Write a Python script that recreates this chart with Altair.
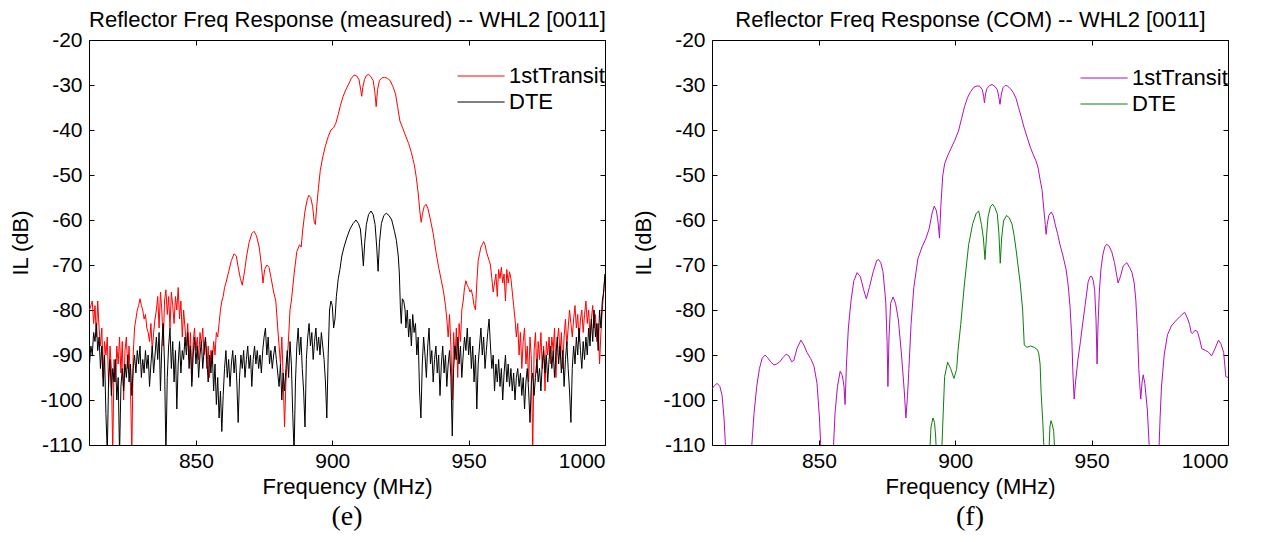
import altair as alt
import pandas as pd

FONT = "Liberation Sans"
SERIF = "Liberation Serif"
X_DOMAIN = [810.8, 1000]
Y_DOMAIN = [-110, -20]
X_TICKS = [850, 900, 950, 1000]
Y_TICKS = [-110, -100, -90, -80, -70, -60, -50, -40, -30, -20]
SERIES = ["1stTransit", "DTE"]

TITLE_E = "Reflector Freq Response (measured) -- WHL2 [0011]"
TITLE_F = "Reflector Freq Response (COM) -- WHL2 [0011]"

# (frequency MHz, IL dB); values below -110 leave the plot
meas_transit = [
(811.0,-80),(811.5,-79),(812.0,-78),(812.5,-83),(813.0,-79),(813.5,-86),(814.0,-78),(814.5,-84),(815.0,-88),(815.5,-84),
(816.0,-95),(816.5,-87),(817.0,-90),(817.5,-86),(818.0,-97),(818.5,-88),(819.0,-93),(819.5,-112),(820.0,-91),(820.5,-96),
(821.0,-88),(821.5,-92),(822.0,-86),(822.5,-94),(823.0,-87),(823.5,-100),(824.0,-89),(824.5,-86),(825.0,-93),(825.5,-88),
(826.0,-97),(826.5,-112),(827.0,-90),(827.5,-84),(828.0,-82),(828.5,-80),(829.0,-79),(829.5,-77.5),(830.0,-79),(830.5,-80),
(831.0,-82),(831.5,-81),(832.0,-84),(832.5,-85),(833.0,-87),(833.5,-83),(834.0,-89),(834.5,-85),(835.0,-82),(835.5,-80),
(836.0,-77),(836.5,-84),(837.0,-76),(837.5,-80),(838.0,-88),(838.5,-78),(839.0,-75.5),(839.5,-81),(840.0,-77),(840.5,-84),
(841.0,-76),(841.5,-79),(842.0,-83),(842.5,-77),(843.0,-80),(843.5,-75),(844.0,-82),(844.5,-78),(845.0,-86),(845.5,-80),
(846.0,-84),(846.5,-88),(847.0,-83),(847.5,-91),(848.0,-85),(848.5,-96),(849.0,-87),(849.5,-84),(850.0,-89),(850.5,-86),
(851.0,-91),(851.5,-85),(852.0,-88),(852.5,-84),(853.0,-90),(853.5,-86),(854.0,-93),(854.5,-88),(855.0,-95),(855.5,-89),
(856.0,-92),(856.5,-87),(857.0,-90),(857.5,-85),(858.0,-86),(858.5,-83),(859.0,-80),(859.5,-78),(860.0,-77),(860.5,-75),
(861.0,-74),(862,-71.5),(863,-69),(864,-67.5),(864.8,-68),(865.5,-70.5),(866.3,-73),(867,-74.5),(867.8,-71.5),(868.6,-68),
(869.5,-65),(870.5,-63),(871.3,-62.5),(872.2,-63.5),(873.2,-66),(874,-70),(874.6,-74),(875.2,-71),(876,-70),(876.8,-70.5),
(877.6,-73),(878.5,-76),(879.3,-78),(880,-84),(880.5,-88),(881,-92),(881.5,-86),(882,-95),(882.5,-106),(883,-96),
(883.5,-91),(884,-86),(884.5,-80),(885,-78),(886,-72),(887,-67),(888,-65.5),(888.6,-66),(889.2,-62),(890,-58),
(890.8,-55.5),(891.4,-54.5),(892.1,-55),(892.8,-57),(893.4,-60.5),(893.8,-61),(894.3,-57),(894.9,-53),(895.6,-49),(896.5,-46),
(897.5,-43.5),(898.5,-41.5),(899.5,-40),(900.5,-39.5),(901.3,-38.5),(902.2,-36.5),(903,-34.5),(904,-32.5),(905,-31),(906,-29.8),
(907,-28.5),(908,-27.8),(909,-28),(909.8,-28.8),(910.4,-31),(910.8,-32.5),(911.2,-30.5),(911.8,-28.8),(912.5,-27.9),(913.3,-27.6),
(914.2,-28.2),(915,-29),(915.6,-31.5),(916.1,-34.8),(916.6,-31),(917.3,-29),(918.2,-28.4),(919.2,-28.3),(920.2,-28.5),(921.2,-29),
(922.2,-30.3),(923.2,-32),(924,-35),(924.8,-38),(925.8,-39.5),(927,-41.5),(928,-43),(929,-45),(930,-47.5),(930.8,-50.5),
(931.5,-54),(932.1,-58),(932.6,-60.5),(933.1,-58.5),(933.7,-57),(934.4,-56.5),(935.1,-57.5),(936,-60),(937,-63),(938,-67),
(939,-70.5),(940,-73.5),(940.8,-76),(941.5,-79),(942,-82),(942.5,-86),(943,-81),(943.5,-88),(944,-100),(944.5,-85),
(945,-91),(945.5,-84),(946,-95),(946.5,-83),(947,-87),(947.5,-80),(948,-78),(948.5,-75),(949,-73.5),(949.5,-74.5),
(950,-75),(950.5,-76),(951,-75.5),(951.5,-77),(952,-79),(952.5,-80),(953,-74),(953.5,-69),(954,-67.5),(954.5,-66),
(955,-65.5),(955.5,-64.8),(956,-65.5),(956.5,-67),(957,-68),(957.5,-69),(958,-70),(958.5,-73),(959,-76),(959.5,-74),
(960,-72),(960.5,-77),(961,-71),(961.5,-73),(962,-70.5),(962.5,-74),(963,-72),(963.5,-78),(964,-71),(964.5,-74),
(965,-71.5),(965.5,-73),(966,-76),(966.5,-79),(967,-82),(967.5,-86),(968,-83),(968.5,-90),(969,-85),(969.5,-93),
(970,-87),(970.5,-84),(971,-92),(971.5,-88),(972,-96),(972.5,-86),(973,-91),(973.5,-112),(974,-89),(974.5,-85),
(975,-94),(975.5,-87),(976,-91),(976.5,-85),(977,-93),(977.5,-88),(978,-98),(978.5,-87),(979,-90),(979.5,-86),
(980,-92),(980.5,-86),(981,-89),(981.5,-84),(982,-95),(982.5,-87),(983,-84),(983.5,-90),(984,-85),(984.5,-93),
(985,-86),(985.5,-82),(986,-88),(986.5,-84),(987,-80),(987.5,-83),(988,-86),(988.5,-82),(989,-79),(989.5,-84),
(990,-81),(990.5,-87),(991,-82),(991.5,-80),(992,-85),(992.5,-81),(993,-78),(993.5,-83),(994,-80),(994.5,-86),
(995,-82),(995.5,-79),(996,-84),(996.5,-81),(997,-87),(997.5,-83),(998,-92),(998.5,-85),(999,-80),(999.5,-76),(1000,-72)]

meas_dte = [
(811.0,-92),(811.5,-88),(812.0,-90),(812.5,-85),(813.0,-87),(813.5,-83),(814.0,-89),(814.5,-86),(815.0,-93),(815.5,-88),
(816.0,-97),(816.5,-90),(817.0,-103),(817.5,-112),(818.0,-95),(818.5,-91),(819.0,-99),(819.5,-93),(820.0,-96),(820.5,-91),
(821.0,-100),(821.5,-95),(822.0,-112),(822.5,-97),(823.0,-93),(823.5,-98),(824.0,-92),(824.5,-95),(825.0,-90),(825.5,-96),
(826.0,-92),(826.5,-99),(827.0,-93),(827.5,-90),(828.0,-94),(828.5,-89),(829.0,-92),(829.5,-88),(830.0,-95),(830.5,-91),
(831.0,-94),(831.5,-89),(832.0,-93),(832.5,-90),(833.0,-97),(833.5,-92),(834.0,-88),(834.5,-94),(835.0,-90),(835.5,-86),
(836.0,-91),(836.5,-85),(837.0,-98),(837.5,-88),(838.0,-83),(838.5,-92),(839.0,-112),(839.5,-95),(840.0,-88),(840.5,-84),
(841.0,-93),(841.5,-87),(842.0,-96),(842.5,-89),(843.0,-102),(843.5,-92),(844.0,-87),(844.5,-94),(845.0,-89),(845.5,-91),
(846.0,-86),(846.5,-90),(847.0,-85),(847.5,-93),(848.0,-88),(848.5,-97),(849.0,-90),(849.5,-86),(850.0,-92),(850.5,-88),
(851.0,-95),(851.5,-90),(852.0,-87),(852.5,-93),(853.0,-89),(853.5,-86),(854.0,-91),(854.5,-96),(855.0,-90),(855.5,-94),
(856.0,-89),(856.5,-98),(857.0,-92),(857.5,-101),(858.0,-95),(858.5,-104),(859.0,-98),(859.5,-107),(860.0,-99),(860.5,-93),
(861.0,-89),(861.5,-95),(862.0,-91),(862.5,-97),(863.0,-92),(863.5,-89),(864.0,-94),(864.5,-90),(865.0,-96),(865.5,-105),
(866.0,-95),(866.5,-90),(867.0,-93),(867.5,-89),(868.0,-95),(868.5,-91),(869.0,-88),(869.5,-93),(870.0,-90),(870.5,-97),
(871.0,-91),(871.5,-88),(872.0,-92),(872.5,-89),(873.0,-93),(873.5,-90),(874.0,-94),(874.5,-89),(875.0,-86),(875.5,-84),
(876.0,-90),(876.5,-86),(877.0,-92),(877.5,-89),(878.0,-93),(878.5,-90),(879.0,-88),(879.5,-91),(880.0,-94),(880.5,-97),
(881.0,-92),(881.5,-100),(882.0,-94),(882.5,-98),(883.0,-93),(883.5,-89),(884.0,-95),(884.5,-87),(885.0,-92),(885.5,-103),
(886.0,-112),(886.5,-96),(887.0,-88),(887.5,-84),(888.0,-90),(888.5,-86),(889.0,-93),(889.5,-98),(890.0,-106),(890.5,-91),
(891.0,-86),(891.5,-83),(892.0,-88),(892.5,-85),(893.0,-91),(893.5,-87),(894.0,-84),(894.5,-89),(895.0,-86),(895.5,-90),
(896.0,-85),(896.5,-88),(897.0,-91),(897.5,-96),(898.0,-104),(898.5,-90),(899.0,-80),(899.5,-78),(900.0,-79),(900.5,-84),
(901.0,-82),(901.5,-77),(902.2,-73),(902.8,-71),(903.5,-68),(904.3,-66),(905.3,-64),(906.5,-62),(907.6,-60.8),(908.7,-60),
(909.6,-60.8),(910.3,-62),(910.9,-66),(911.4,-70.2),(911.9,-65),(912.5,-61),(913.3,-58.8),(914.2,-58),(915,-58.8),(915.7,-61),
(916.3,-66),(916.8,-71.4),(917.3,-65),(918,-60.8),(918.9,-59),(919.8,-58.5),(920.8,-59),(921.8,-60),(922.8,-62.5),(923.5,-64.5),
(924.2,-68),(924.6,-72),(925,-80),(925.3,-83),(925.7,-77.5),(926.2,-78),(926.7,-80),(927.0,-84),(927.5,-80),(928.0,-86),
(928.5,-82),(929.0,-88),(929.5,-81),(930.0,-85),(930.5,-83),(931.0,-90),(931.5,-86),(932.0,-98),(932.5,-104),(933.0,-92),
(933.5,-86),(934.0,-90),(934.5,-95),(935.0,-88),(935.5,-84),(936.0,-92),(936.5,-89),(937.0,-96),(937.5,-91),(938.0,-88),
(938.5,-94),(939.0,-90),(939.5,-99),(940.0,-92),(940.5,-88),(941.0,-94),(941.5,-90),(942.0,-97),(942.5,-92),(943.0,-89),
(943.5,-95),(944.0,-108),(944.5,-93),(945.0,-88),(945.5,-91),(946.0,-86),(946.5,-92),(947.0,-88),(947.5,-95),(948.0,-90),
(948.5,-86),(949.0,-89),(949.5,-84),(950.0,-90),(950.5,-86),(951.0,-93),(951.5,-88),(952.0,-96),(952.5,-90),(953.0,-102),
(953.5,-92),(954.0,-88),(954.5,-84),(955.0,-90),(955.5,-86),(956.0,-93),(956.5,-89),(957.0,-85),(957.5,-82),(958.0,-88),
(958.5,-93),(959.0,-90),(959.5,-98),(960.0,-92),(960.5,-96),(961.0,-91),(961.5,-97),(962.0,-93),(962.5,-100),(963.0,-94),
(963.5,-90),(964.0,-96),(964.5,-92),(965.0,-97),(965.5,-93),(966.0,-98),(966.5,-94),(967.0,-100),(967.5,-95),(968.0,-93),
(968.5,-97),(969.0,-94),(969.5,-99),(970.0,-95),(970.5,-102),(971.0,-96),(971.5,-93),(972.0,-98),(972.5,-105),(973.0,-96),
(973.5,-94),(974.0,-99),(974.5,-95),(975.0,-91),(975.5,-96),(976.0,-93),(976.5,-98),(977.0,-92),(977.5,-89),(978.0,-94),
(978.5,-90),(979.0,-96),(979.5,-91),(980.0,-88),(980.5,-93),(981.0,-89),(981.5,-95),(982.0,-90),(982.5,-86),(983.0,-92),
(983.5,-88),(984.0,-94),(984.5,-89),(985.0,-97),(985.5,-91),(986.0,-87),(986.5,-93),(987.0,-98),(987.5,-105),(988.0,-93),
(988.5,-88),(989.0,-92),(989.5,-86),(990.0,-90),(990.5,-84),(991.0,-89),(991.5,-93),(992.0,-87),(992.5,-91),(993.0,-86),
(993.5,-90),(994.0,-84),(994.5,-88),(995.0,-82),(995.5,-87),(996.0,-80),(996.5,-86),(997.0,-83),(997.5,-89),(998.0,-80),
(998.5,-84),(999.0,-78),(999.5,-76),(1000.0,-72)]

com_transit = [
(810.8,-97.5),(811.7,-96.8),(812.7,-96.3),(813.7,-97),(814.5,-99),(815.2,-104),(815.9,-112),(820,-140),(824.9,-115),(825.4,-110),
(826.2,-103),(827.2,-97),(828.2,-93),(829.2,-90.7),(830.3,-90),(831.2,-90.6),(832.4,-91.6),(833.5,-92.2),(834.5,-92),(835.5,-91.6),
(836.8,-90.6),(838,-89.8),(839,-90.2),(840,-91.5),(840.8,-91.2),(842,-88.5),(843.4,-86.7),(844.5,-87.8),(845.6,-89.4),(847,-90.8),
(848.2,-92.5),(849.3,-96.3),(850.2,-104),(850.8,-112),(853,-135),(855,-115),(855.9,-103),(856.8,-97),(857.8,-93.6),(858.6,-94.6),
(859.2,-97),(859.6,-101),(860.1,-92),(860.8,-84),(861.8,-77.8),(862.8,-73.5),(864,-71.7),(865.2,-72.6),(866.4,-75.5),(867.4,-77.5),
(868.5,-75),(869.9,-71.5),(871.2,-69),(871.9,-68.8),(872.7,-69.5),(873.5,-71.5),(874.5,-78),(875,-87),(875.3,-97),(875.7,-86),
(876.3,-78.5),(877.2,-77.1),(878.1,-78.5),(879.1,-82),(880.3,-90),(881.3,-98),(881.9,-104),(882.5,-99),(883,-93),(883.8,-83),
(884.8,-75),(886.3,-68.6),(887.8,-66),(889.3,-64),(890.4,-62),(891.5,-58.5),(892.3,-56.9),(893.1,-58),(893.7,-60.5),(894.2,-64),
(894.7,-57),(895.4,-50.2),(896.1,-47.5),(897,-46),(898.5,-44),(899.8,-42.3),(901.2,-40.2),(902.3,-37.5),(903.4,-34.8),(904.5,-32.8),
(905.6,-31.5),(906.8,-30.5),(908,-30.2),(909,-30.3),(909.9,-31),(910.4,-32.5),(910.7,-34),(911.1,-32),(911.6,-30.8),(912.6,-30.1),
(913.5,-29.9),(914.5,-30.3),(915.4,-31),(915.9,-32.5),(916.4,-34.3),(916.9,-32),(917.5,-30.6),(918.3,-30.1),(919.1,-30.2),(920.2,-30.8),
(921.3,-31.7),(922.3,-33),(923.2,-35),(924.2,-37.1),(925.3,-39.6),(926.4,-41.7),(927.5,-43.8),(928.6,-45.5),(929.7,-47),(930.4,-48.5),
(931.1,-51),(931.8,-53.2),(932.5,-57.8),(933,-61),(933.3,-63.2),(933.7,-61),(934.3,-59),(935.2,-58.2),(935.9,-59),(936.6,-60.9),
(937.5,-63),(938.4,-65.5),(939.5,-68),(940.6,-70.9),(941.4,-74.5),(942.1,-79.4),(942.7,-86),(943.2,-95),(943.6,-99.8),(944.1,-96),
(945,-90.9),(945.9,-87),(946.5,-84),(947.6,-79),(948.7,-73.8),(949.4,-72.6),(950,-72.5),(950.6,-73.5),(951.1,-75.5),(951.6,-82),
(952,-92),(952.3,-84),(952.8,-76.2),(953.4,-71),(954.1,-67.8),(954.8,-66),(955.5,-65.4),(956.4,-65.8),(957.4,-67.1),(958.4,-69.5),
(959.7,-74),(960.6,-72.5),(961.6,-70.2),(962.9,-69.5),(963.9,-70.5),(964.8,-71.7),(965.6,-74),(966.2,-77.8),(966.8,-85),(967.3,-93.2),
(968,-99.8),(968.5,-96),(968.9,-94.4),(969.5,-96.3),(970.4,-102),(971.1,-110),(972.8,-135),(974.5,-114),(975.1,-104),(975.6,-97.1),
(976.6,-90),(977.8,-85.5),(979.3,-83.5),(980.7,-82.5),(982.3,-81.5),(984.1,-80.5),(985.1,-81.8),(985.9,-83.2),(986.5,-85),(987,-85.2),
(987.9,-84.5),(988.8,-84.8),(989.6,-86.5),(990.4,-88.6),(991.8,-89),(992.9,-89.4),(994,-90.2),(995.3,-88.5),(996.5,-86.7),(997.4,-87.5),
(998.4,-89.4),(999.2,-94.8),(1000,-95)]

com_dte = [
(890.6,-112),(891.1,-106),(891.8,-104),(892.4,-105),(892.8,-108),(893.1,-112),(894,-125),(895,-112),(895.5,-104),(896.1,-94.8),
(897.2,-91.6),(898.3,-93),(899.5,-95.2),(900.5,-93.2),(901,-89),(902,-83.2),(903.4,-74),(904.9,-65.5),(906.4,-60.8),(907.7,-58.5),
(908.6,-58),(909.6,-61),(910.3,-64),(910.9,-68.8),(911.4,-64),(912,-59.4),(912.9,-57),(913.7,-56.5),(914.5,-57.2),(915.4,-58.6),
(916,-63),(916.5,-69.6),(917,-64),(917.7,-60.2),(918.8,-59),(919.8,-59.5),(920.8,-60.9),(921.6,-63.5),(922.4,-67.1),(923.8,-74),
(924.7,-80),(925.3,-87.8),(926.3,-88.3),(927.6,-88),(929,-88.3),(930.1,-88.8),(930.6,-89.6),(931.1,-92),(931.5,-98.6),(932.1,-105),
(932.6,-112),(933.5,-120),(934.3,-112),(934.7,-106),(935.1,-104.6),(935.6,-105.5),(936.1,-107),(936.5,-112)]


def frame(pairs, name):
    return pd.DataFrame({"freq": [p[0] for p in pairs],
                         "il": [p[1] for p in pairs],
                         "series": name})


FS_LABEL = 21
FS_TITLE = 22
AX = dict(grid=False, domain=False, tickColor="black", tickSize=5, tickWidth=1, offset=-5,
          labelFont=FONT, labelFontSize=FS_LABEL, labelColor="black",
          titleFont=FONT, titleFontSize=FS_TITLE, titleFontWeight="normal", titleColor="black")


def panel(title, caption, transit, dte, colors, leg_y):
    d1 = frame(transit, SERIES[0])
    d2 = frame(dte, SERIES[1])
    xs = alt.Scale(domain=X_DOMAIN, nice=False, zero=False)
    ys = alt.Scale(domain=Y_DOMAIN, nice=False, zero=False)
    color = alt.Color(
        "series:N",
        scale=alt.Scale(domain=SERIES, range=colors),
        legend=alt.Legend(orient="none", legendX=398, legendY=leg_y, title=None,
                          symbolType="M-13.5,0H2.2", symbolSize=36, symbolStrokeWidth=1,
                          labelFont=FONT, labelFontSize=FS_TITLE, labelColor="black",
                          labelOffset=0, rowPadding=4, padding=0),
    )
    l1 = alt.Chart(d1).mark_line(clip=True, strokeWidth=1).encode(
        x=alt.X("freq:Q", scale=xs,
                axis=alt.Axis(orient="bottom", values=X_TICKS, title="Frequency (MHz)",
                              labelExpr="datum.value + ''", labelPadding=5, titlePadding=5, **AX)),
        y=alt.Y("il:Q", scale=ys,
                axis=alt.Axis(orient="left", values=Y_TICKS, title="IL (dB)",
                              labelExpr="datum.value + ''", labelPadding=7, titlePadding=7, **AX)),
        color=color,
    )
    l2 = alt.Chart(d2).mark_line(clip=True, strokeWidth=1).encode(
        x=alt.X("freq:Q", axis=None),
        y=alt.Y("il:Q", axis=None),
        color=alt.Color("series:N"),
    )
    l3 = alt.Chart(d1).mark_line(opacity=0, clip=True).encode(
        x=alt.X("freq:Q", axis=alt.Axis(orient="top", values=X_TICKS, labels=False,
                                         title=title, titlePadding=8, **AX)),
        y=alt.Y("il:Q", axis=alt.Axis(orient="right", values=Y_TICKS, labels=False,
                                       title=None, **AX)),
    )
    return alt.layer(l1, l2, l3).resolve_axis(x="independent", y="independent").properties(
        width=516, height=405,
        title=alt.TitleParams(caption, orient="bottom", font=SERIF, fontSize=28,
                              fontWeight="normal", color="black", offset=6),
    )


left = panel(TITLE_E, "(e)", meas_transit, meas_dte, ["#ff0000", "#000000"], 25)
right = panel(TITLE_F, "(f)", com_transit, com_dte, ["#b010b8", "#0a7f0a"], 27)

chart = alt.hconcat(left, right, spacing=26).resolve_scale(color="independent").resolve_legend(
    color="independent"
).properties(
    padding={"left": 1, "top": 0, "right": 0, "bottom": 0},
    background="white",
).configure_view(stroke="black", strokeWidth=1)

chart.save("out.html", embed_options={"renderer": "svg", "actions": False})
